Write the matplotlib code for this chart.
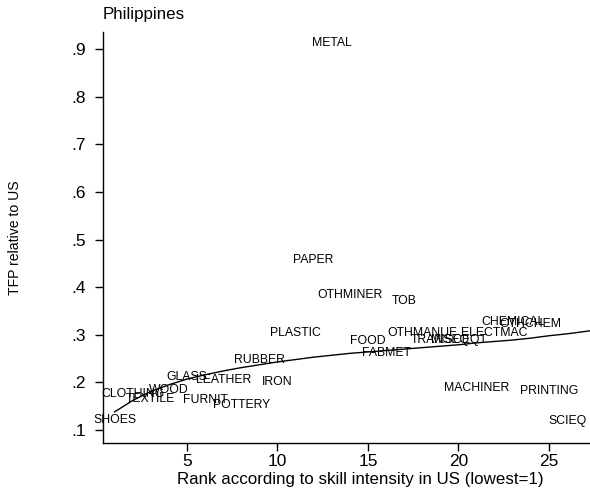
import matplotlib
matplotlib.use("Agg")
import matplotlib.pyplot as plt
from matplotlib.ticker import FuncFormatter

# industry labels, skill-intensity rank and TFP relative to US
industries = ["SHOES", "CLOTHING", "TEXTILE", "WOOD", "GLASS", "FURNIT",
              "LEATHER", "POTTERY", "RUBBER", "IRON", "PLASTIC", "PAPER",
              "METAL", "OTHMINER", "FOOD", "FABMET", "TOB", "OTHMANUF",
              "TRANSEQ", "MISCEQT", "MACHINER", "ELECTMAC", "CHEMICAL",
              "OTHCHEM", "PRINTING", "SCIEQ"]
ranks = [1, 2, 3, 4, 5, 6, 7, 8, 9, 10, 11, 12, 13, 14, 15, 16, 17, 18,
         19, 20, 21, 22, 23, 24, 25, 26]
tfp = [0.121, 0.175, 0.165, 0.183, 0.212, 0.163, 0.204, 0.152, 0.247,
       0.201, 0.304, 0.457, 0.913, 0.384, 0.287, 0.262, 0.371, 0.304,
       0.288, 0.288, 0.188, 0.304, 0.327, 0.322, 0.182, 0.119]

# smoothed fit
fit_rank = [1, 2, 3, 4, 5, 6, 7, 8, 9, 10, 11, 12, 13, 14, 15, 16, 17,
            18, 19, 20, 21, 22, 23, 24, 25, 26, 27, 28]
fit_tfp = [0.138, 0.162, 0.181, 0.195, 0.207, 0.216, 0.224, 0.231, 0.237,
           0.243, 0.248, 0.253, 0.257, 0.261, 0.264, 0.267, 0.270, 0.273,
           0.276, 0.279, 0.283, 0.286, 0.289, 0.293, 0.298, 0.302, 0.307,
           0.312]

plt.rcParams["font.family"] = ["Liberation Sans", "DejaVu Sans"]

fig = plt.figure(figsize=(5.9, 4.9), dpi=100)
ax = fig.add_axes([103 / 590, 47 / 490, 514 / 590, 411 / 490])

for name, x, y in zip(industries, ranks, tfp):
    ax.text(x, y, name, ha="center", va="center", fontsize=8.8, color="black")

ax.plot(fit_rank, fit_tfp, color="black", linewidth=1.0)

ax.set_xlim(0.36, 28.76)
ax.set_ylim(0.0727, 0.936)
ax.set_xticks([5, 10, 15, 20, 25])
ax.set_yticks([0.1, 0.2, 0.3, 0.4, 0.5, 0.6, 0.7, 0.8, 0.9])
ax.yaxis.set_major_formatter(FuncFormatter(lambda v, p: f"{v:.1f}".lstrip("0")))
ax.tick_params(axis="both", labelsize=12.5, length=6, width=1, color="black")
ax.tick_params(axis="x", pad=2)
ax.tick_params(axis="y", pad=6)

for side in ["top", "right"]:
    ax.spines[side].set_visible(False)
for side in ["left", "bottom"]:
    ax.spines[side].set_linewidth(1)

ax.set_xlabel("Rank according to skill intensity in US (lowest=1)", fontsize=12.2, labelpad=2)
ax.set_ylabel("TFP relative to US", fontsize=10.1, labelpad=36)
ax.set_title("Philippines", loc="left", fontsize=12.2, pad=9)

fig.savefig("out.png", dpi=100)
print("Saved: out.png")
